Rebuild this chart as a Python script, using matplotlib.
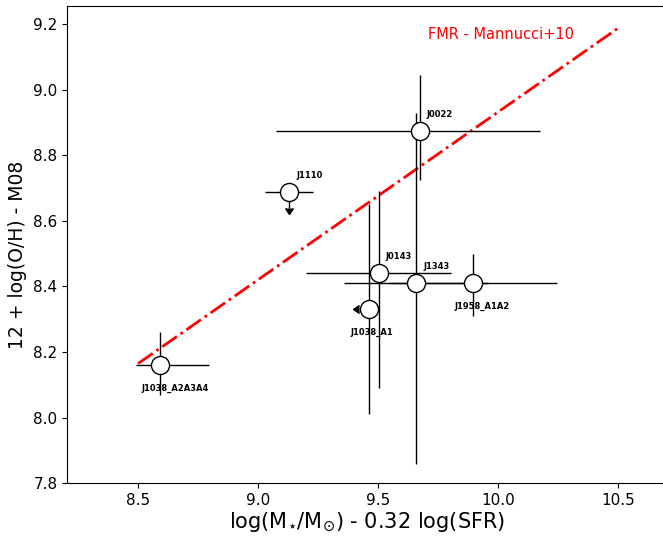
import matplotlib
matplotlib.use("Agg")
import matplotlib.pyplot as plt
import numpy as np

# Data
names = ["J0022", "J1110", "J0143", "J1343", "J1958_A1A2", "J1038_A1", "J1038_A2A3A4"]
mu = [9.672, 9.129, 9.501, 9.657, 9.895, 9.461, 8.593]
oh = [8.873, 8.688, 8.440, 8.410, 8.410, 8.330, 8.160]
mu_err_lo = [0.60, 0.10, 0.30, 0.30, 0.35, 0.0, 0.10]
mu_err_hi = [0.50, 0.10, 0.30, 0.30, 0.35, 0.0, 0.20]
oh_err_lo = [0.15, 0.0, 0.35, 0.55, 0.10, 0.32, 0.09]
oh_err_hi = [0.17, 0.0, 0.25, 0.52, 0.09, 0.32, 0.10]
label_below = [False, False, False, False, True, True, True]

# Limits: J1110 is an upper limit in O/H, J1038_A1 an upper limit in mu
ulim_oh_name = "J1110"
ulim_mu_name = "J1038_A1"
arrow_len_oh = 0.05
arrow_len_mu = 0.04

# FMR line (Mannucci+10)
fmr_x = [8.5, 10.5]
fmr_y = [8.165, 9.188]

W, H = 663, 536
fig = plt.figure(figsize=(W / 100, H / 100), dpi=100)
xlim = (8.205, 10.7)
ylim = (7.8, 9.255)
px_per_x = 240.15
px_per_y = 328.1
left_px, bottom_px = 67.3, 483.3
ax = fig.add_axes([left_px / W, (H - bottom_px) / H,
                   (xlim[1] - xlim[0]) * px_per_x / W,
                   (ylim[1] - ylim[0]) * px_per_y / H])

ax.plot(fmr_x, fmr_y, color="red", ls="-.", lw=2, zorder=1)
ax.text(9.705, 9.168, "FMR - Mannucci+10", color="red", fontsize=10.5,
        ha="left", va="center")

for i, n in enumerate(names):
    xe = [[mu_err_lo[i]], [mu_err_hi[i]]]
    ye = [[oh_err_lo[i]], [oh_err_hi[i]]]
    ax.errorbar([mu[i]], [oh[i]], xerr=xe, yerr=ye, fmt="none",
                color="black", elinewidth=1, zorder=2)
    if n == ulim_oh_name:
        ax.errorbar([mu[i]], [oh[i]], yerr=arrow_len_oh, uplims=True,
                    fmt="none", color="black", elinewidth=1, capsize=3,
                    zorder=2)
    if n == ulim_mu_name:
        ax.errorbar([mu[i]], [oh[i]], xerr=arrow_len_mu, xuplims=True,
                    fmt="none", color="black", elinewidth=1, capsize=3,
                    zorder=2)
    ax.plot([mu[i]], [oh[i]], marker="o", ms=13, mfc="white",
            mec="black", mew=1, ls="none", zorder=3)
    if label_below[i]:
        ax.text(mu[i] - 0.078, oh[i] - 0.071, n, fontsize=6, fontweight="bold",
                ha="left", va="center")
    else:
        ax.text(mu[i] + 0.03, oh[i] + 0.05, n, fontsize=6, fontweight="bold",
                ha="left", va="center")

ax.set_xlim(*xlim)
ax.set_ylim(*ylim)
ax.set_xticks([8.5, 9.0, 9.5, 10.0, 10.5])
ax.set_yticks([7.8, 8.0, 8.2, 8.4, 8.6, 8.8, 9.0, 9.2])
ax.tick_params(labelsize=11)
ax.set_xlabel(r"log(M$_{\star}$/M$_{\odot}$) - 0.32 log(SFR)", fontsize=15,
              labelpad=2)
ax.set_ylabel("12 + log(O/H) - M08", fontsize=13.5)
ax.yaxis.set_label_coords(-0.068, 0.478)

fig.savefig("out.png", dpi=100)
